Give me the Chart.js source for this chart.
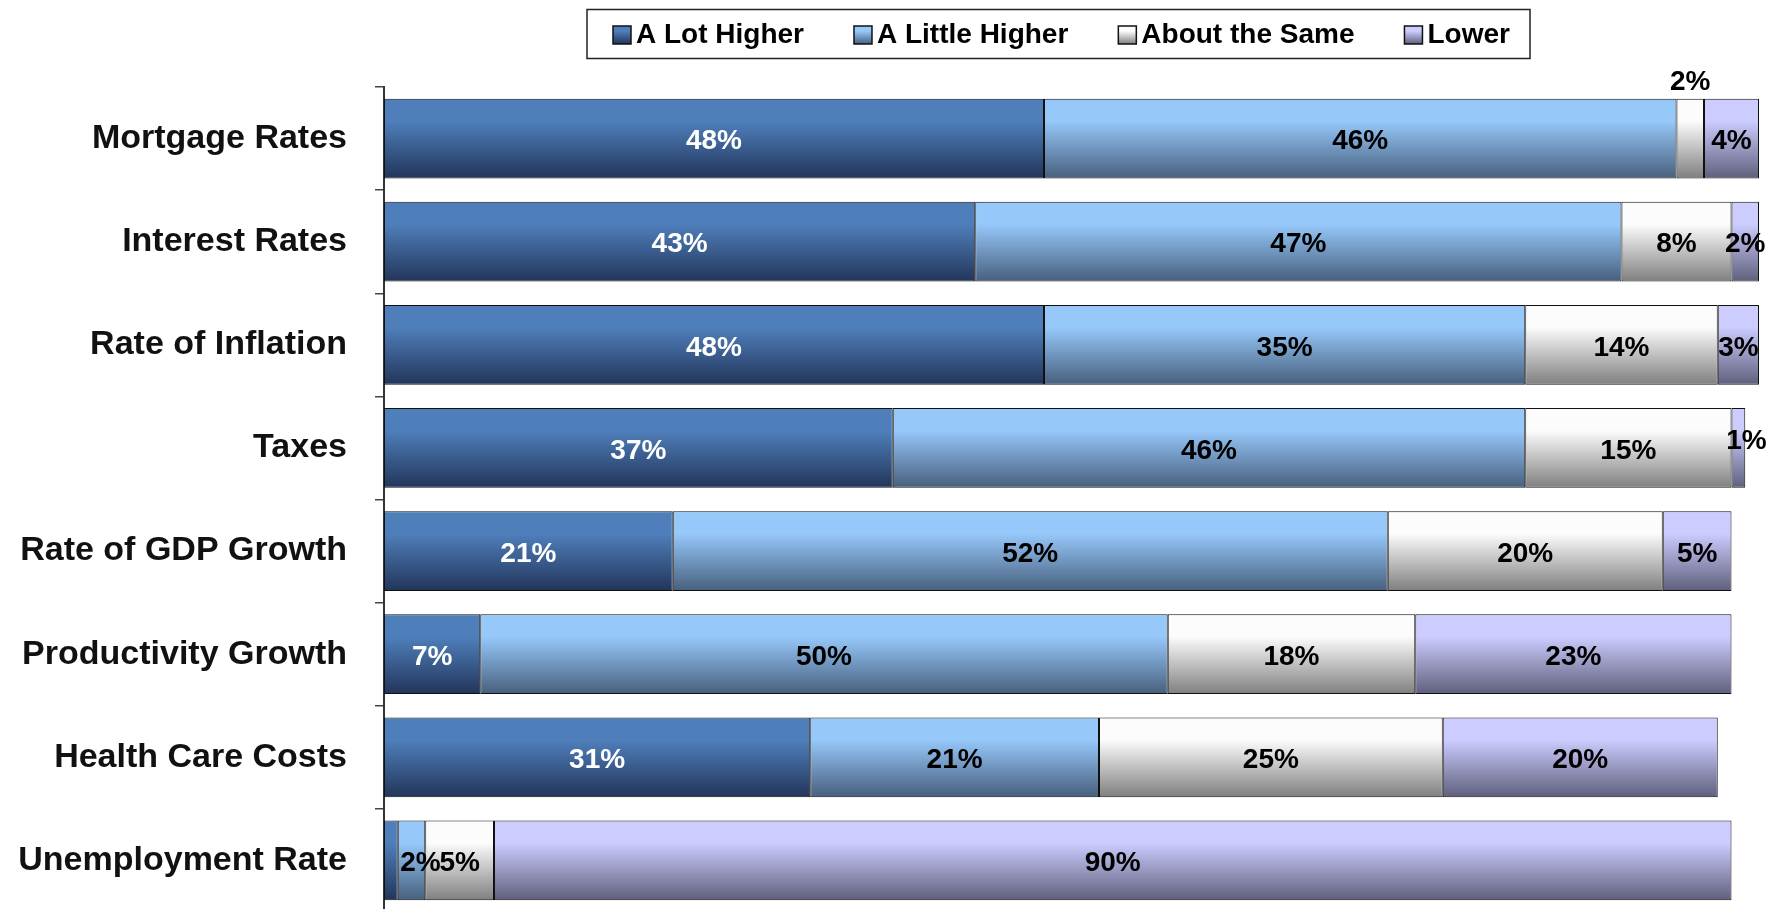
<!DOCTYPE html>
<html>
<head>
<meta charset="utf-8">
<script src="https://cdn.jsdelivr.net/npm/chart.js@4.4.1/dist/chart.umd.min.js"></script>
<style>
  html, body { margin: 0; padding: 0; background: #fff; overflow: hidden; }
  canvas { display: block; }
</style>
</head>
<body>
<canvas id="chart" width="1779" height="912"></canvas>
<script>
// survey answers, percent of respondents
const categories = [
  "Mortgage Rates",
  "Interest Rates",
  "Rate of Inflation",
  "Taxes",
  "Rate of GDP Growth",
  "Productivity Growth",
  "Health Care Costs",
  "Unemployment Rate",
];
const seriesNames = ["A Lot Higher", "A Little Higher", "About the Same", "Lower"];
const aLotHigher = [48, 43, 48, 37, 21, 7, 31, 1];
const aLittleHigher = [46, 47, 35, 46, 52, 50, 21, 2];
const aboutTheSame = [2, 8, 14, 15, 20, 18, 25, 5];
const lower = [4, 2, 3, 1, 5, 23, 20, 90];

const FONT = "'Liberation Sans', Arial, Helvetica, sans-serif";
const BAR_PCT = 0.773;

// top / bottom colours of each series' vertical gradient
const shades = [
  ["#4f7fbb", "#22355a"],
  ["#96c8fa", "#475f7d"],
  ["#fcfcfc", "#7f7f7f"],
  ["#ccccff", "#5f5f7c"],
];
const labelColors = ["#ffffff", "#000000", "#000000", "#000000"];

function makeGradient(c2d, top, bottom, pair) {
  const g = c2d.createLinearGradient(0, top, 0, bottom);
  g.addColorStop(0, pair[0]);
  g.addColorStop(0.28, pair[0]);
  g.addColorStop(1, pair[1]);
  return g;
}

// each bar gets its own gradient, spanning the bar's height
function barFill(seriesIdx) {
  return (ctx) => {
    const chart = ctx.chart;
    const yScale = chart.scales.y;
    if (!chart.chartArea || !yScale || ctx.type !== "data") return shades[seriesIdx][0];
    const yc = yScale.getPixelForValue(ctx.dataIndex);
    const half = (yScale.height / categories.length) * BAR_PCT / 2;
    return makeGradient(chart.ctx, yc - half, yc + half, shades[seriesIdx]);
  };
}

// odd labels that sit off-centre, or are left out
const labelNudge = {
  "2-0": { dx: 0, dy: -59 },
  "3-3": { dx: 8, dy: -10 },
  "1-7": { dx: 9, dy: 0 },
  "0-7": { hide: true },
};

const valueLabels = {
  id: "valueLabels",
  afterDatasetsDraw(chart) {
    const c = chart.ctx;
    c.save();
    c.font = "bold 28px " + FONT;
    c.textAlign = "center";
    c.textBaseline = "middle";
    chart.data.datasets.forEach((ds, di) => {
      chart.getDatasetMeta(di).data.forEach((bar, i) => {
        const nudge = labelNudge[di + "-" + i] || {};
        if (nudge.hide) return;
        const x = (bar.x + bar.base) / 2 + (nudge.dx || 0);
        const y = bar.y + 3 + (nudge.dy || 0);
        c.fillStyle = labelColors[di];
        c.fillText(ds.data[i] + "%", x, y);
      });
    });
    c.restore();
  },
};

// boxed legend above the bars
const boxLegend = {
  id: "boxLegend",
  afterDraw(chart) {
    const c = chart.ctx;
    c.save();
    c.font = "bold 28px " + FONT;
    c.textBaseline = "middle";
    const sw = 18, gapText = 5, gapItem = 50;
    const boxLeft = 587, boxTop = 9.5, boxRight = 1530, boxBottom = 58.5;
    let x = boxLeft + 26;
    const yMid = (boxTop + boxBottom) / 2;
    c.lineWidth = 1.5;
    c.strokeStyle = "#222";
    c.strokeRect(boxLeft, boxTop, boxRight - boxLeft, boxBottom - boxTop);
    chart.data.datasets.forEach((ds, di) => {
      const sy = yMid - sw / 2 + 1;
      c.fillStyle = makeGradient(c, sy, sy + sw, shades[di]);
      c.fillRect(x, sy, sw, sw);
      c.lineWidth = 1.5;
      c.strokeStyle = "#111";
      c.strokeRect(x, sy, sw, sw);
      c.fillStyle = "#000";
      c.fillText(ds.label, x + sw + gapText, yMid + 1);
      x += sw + gapText + c.measureText(ds.label).width + gapItem;
    });
    c.restore();
  },
};

const seriesData = [aLotHigher, aLittleHigher, aboutTheSame, lower];

const chart = new Chart(document.getElementById("chart").getContext("2d"), {
  type: "bar",
  data: {
    labels: categories,
    datasets: seriesData.map((vals, si) => ({
      label: seriesNames[si],
      data: vals,
      backgroundColor: barFill(si),
      borderColor: "#111",
      borderWidth: 1,
      borderSkipped: false,
      barPercentage: BAR_PCT,
      categoryPercentage: 1,
    })),
  },
  options: {
    indexAxis: "y",
    responsive: false,
    animation: false,
    events: [],
    layout: { padding: { top: 87, right: 20, bottom: 0, left: 0 } },
    scales: {
      x: { stacked: true, min: 0, max: 100, display: false },
      y: {
        stacked: true,
        afterFit(scale) {
          scale.width = 384;
          // no extra room for the first / last label's half height
          scale.paddingTop = 0;
          scale.paddingBottom = 0;
        },
        border: { display: true, color: "#333", width: 2 },
        grid: {
          drawOnChartArea: false,
          drawTicks: true,
          tickLength: 9,
          color: "#444",
          lineWidth: 1.5,
        },
        ticks: {
          padding: 28,
          color: "#111",
          font: { family: FONT, size: 34, weight: "bold" },
        },
      },
    },
    plugins: {
      legend: { display: false },
      tooltip: { enabled: false },
    },
  },
  plugins: [valueLabels, boxLegend],
});
</script>
</body>
</html>
